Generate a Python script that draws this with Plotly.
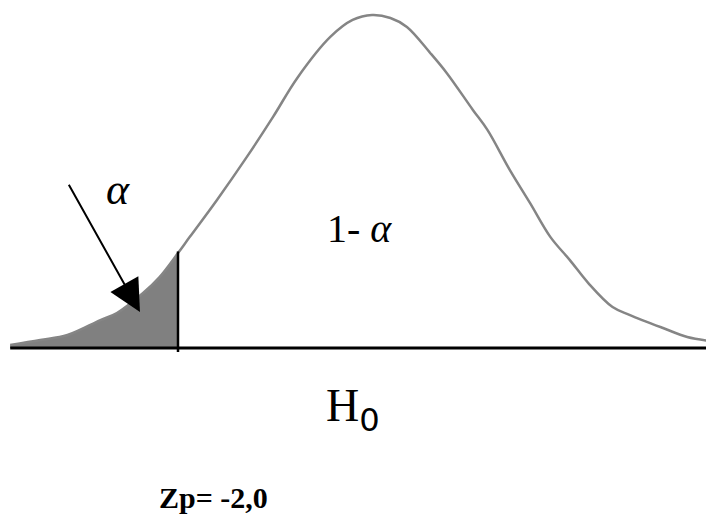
import plotly.graph_objects as go

# curve: z position and relative height (peak = 1)
z_vals = [-3.73, -3.42, -3.14, -2.80, -2.63, -2.36, -2.19, -2.00, -1.88, -1.60,
          -1.29, -1.02, -0.77, -0.43, -0.20, 0.00, 0.19, 0.36, 0.60, 0.77,
          1.04, 1.19, 1.42, 1.63, 1.84, 2.04, 2.23, 2.48, 2.66, 3.00,
          3.25, 3.49]
h_vals = [0.009, 0.024, 0.039, 0.084, 0.105, 0.165, 0.213, 0.285, 0.333, 0.444,
          0.574, 0.694, 0.811, 0.934, 0.985, 1.000, 0.991, 0.964, 0.886, 0.826,
          0.715, 0.655, 0.535, 0.435, 0.333, 0.264, 0.195, 0.123, 0.099, 0.060,
          0.033, 0.021]
z_crit = -2.0

tail_z = [z for z in z_vals if z <= z_crit]
tail_h = [h for z, h in zip(z_vals, h_vals) if z <= z_crit]

fig = go.Figure()

# shaded alpha region
fig.add_trace(go.Scatter(x=tail_z + [z_crit, tail_z[0]], y=tail_h + [0, 0],
                         fill='toself', fillcolor='#808080', mode='none',
                         hoverinfo='skip'))
# the curve
fig.add_trace(go.Scatter(x=z_vals, y=h_vals, mode='lines',
                         line=dict(color='#858585', width=2.5, shape='spline', smoothing=1.0),
                         hoverinfo='skip'))
# baseline
fig.add_trace(go.Scatter(x=[z_vals[0], 3.53], y=[0, 0], mode='lines',
                         line=dict(color='black', width=3), hoverinfo='skip'))
# critical value line
fig.add_trace(go.Scatter(x=[z_crit, z_crit], y=[-0.012, 0.29], mode='lines',
                         line=dict(color='black', width=2.5), hoverinfo='skip'))

serif = 'Liberation Serif, Times New Roman, serif'

fig.add_annotation(x=-2.392, y=0.108, ax=-3.134, ay=0.495, xref='x', yref='y',
                   axref='x', ayref='y', text='', showarrow=True,
                   arrowhead=2, arrowsize=3.2, arrowwidth=2, arrowcolor='black')
fig.add_annotation(x=-2.619, y=0.477, text='<i>α</i>', showarrow=False,
                   font=dict(family=serif, size=44, color='black'))
fig.add_annotation(x=-0.124, y=0.36, text='1- <i>α</i>', showarrow=False,
                   font=dict(family=serif, size=40, color='black'))
fig.add_annotation(x=-0.196, y=-0.186,
                   text='H<sub><span style="font-family:DejaVu Sans">0</span></sub>',
                   showarrow=False, font=dict(family=serif, size=46, color='black'))
fig.add_annotation(x=-1.639, y=-0.45, text='<b>Zp= -2,0</b>', showarrow=False,
                   font=dict(family=serif, size=30, color='black'))

# page body adds an 8px offset, so ranges are set for the figure's shifted box
fig.update_layout(
    width=714, height=518, autosize=False,
    margin=dict(l=0, r=0, t=0, b=0),
    plot_bgcolor='white', paper_bgcolor='white',
    showlegend=False,
    xaxis=dict(range=[-3.7526, 3.6082], visible=False, fixedrange=True),
    yaxis=dict(range=[-0.5345, 1.021], visible=False, fixedrange=True),
)

fig.write_html("out.html")
